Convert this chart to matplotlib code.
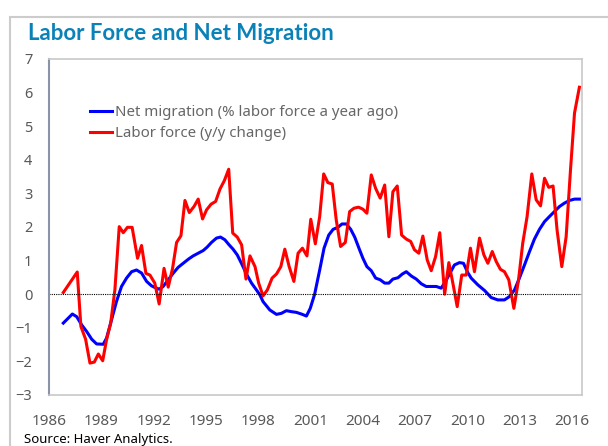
import matplotlib
matplotlib.use('Agg')
import matplotlib.pyplot as plt
from matplotlib.patches import Rectangle

# Net migration (% labor force a year ago)
mig_years = [1986.82, 1987.34, 1987.59, 1987.87, 1988.16, 1988.45, 1988.73, 1989.11, 1989.3,
             1989.59, 1989.87, 1990.16, 1990.45, 1990.74, 1991.02, 1991.31, 1991.6, 1991.88,
             1992.07, 1992.32, 1992.55, 1992.84, 1993.12, 1993.41, 1993.7, 1993.99, 1994.27,
             1994.56, 1994.85, 1995.07, 1995.32, 1995.61, 1995.84, 1996.09, 1996.33, 1996.56,
             1996.8, 1997.04, 1997.33, 1997.62, 1997.87, 1998.1, 1998.28, 1998.67, 1999.05,
             1999.33, 1999.62, 1999.91, 2000.19, 2000.48, 2000.77, 2000.99, 2001.24, 2001.53,
             2001.78, 2002.05, 2002.3, 2002.58, 2002.81, 2003.06, 2003.31, 2003.54, 2003.82,
             2004.01, 2004.24, 2004.49, 2004.74, 2005.0, 2005.26, 2005.5, 2005.73, 2006.02,
             2006.27, 2006.5, 2006.79, 2007.07, 2007.36, 2007.64, 2007.93, 2008.22, 2008.5,
             2008.75, 2009.02, 2009.26, 2009.55, 2009.78, 2010.03, 2010.22, 2010.6, 2010.99,
             2011.37, 2011.75, 2012.13, 2012.42, 2012.71, 2012.99, 2013.28, 2013.57, 2013.85,
             2014.14, 2014.43, 2014.71, 2015.0, 2015.29, 2015.57, 2015.86, 2016.15, 2016.43]
mig_vals = [-0.86, -0.59, -0.67, -0.91, -1.11, -1.34, -1.48, -1.49, -1.31,
            -0.76, -0.22, 0.23, 0.48, 0.67, 0.72, 0.63, 0.38, 0.25,
            0.2, 0.15, 0.23, 0.43, 0.62, 0.8, 0.92, 1.04, 1.14,
            1.22, 1.3, 1.4, 1.54, 1.67, 1.7, 1.62, 1.47, 1.34,
            1.17, 0.92, 0.6, 0.33, 0.15, -0.02, -0.22, -0.47, -0.6,
            -0.57, -0.49, -0.52, -0.54, -0.59, -0.65, -0.42, 0.0, 0.72,
            1.37, 1.76, 1.93, 1.99, 2.09, 2.09, 1.93, 1.7, 1.32,
            1.07, 0.82, 0.7, 0.48, 0.43, 0.33, 0.33, 0.45, 0.49,
            0.6, 0.67, 0.54, 0.45, 0.31, 0.23, 0.23, 0.23, 0.18,
            0.38, 0.64, 0.87, 0.94, 0.92, 0.64, 0.48, 0.28, 0.11,
            -0.1, -0.17, -0.17, -0.07, 0.13, 0.48, 0.87, 1.27, 1.64,
            1.93, 2.16, 2.31, 2.46, 2.61, 2.71, 2.79, 2.83, 2.83]

# Labor force (y/y change)
lf_years = [1986.82, 1987.62, 1987.83, 1988.1, 1988.35, 1988.6, 1988.83, 1989.08, 1989.3,
            1989.54, 1989.78, 1990.03, 1990.26, 1990.5, 1990.77, 1991.08, 1991.31, 1991.56,
            1991.79, 1992.07, 1992.32, 1992.6, 1992.84, 1993.09, 1993.32, 1993.57, 1993.8,
            1994.05, 1994.32, 1994.56, 1994.81, 1995.04, 1995.3, 1995.56, 1995.81, 1996.06,
            1996.31, 1996.54, 1996.8, 1997.05, 1997.3, 1997.53, 1997.82, 1998.03, 1998.28,
            1998.53, 1998.8, 1999.05, 1999.3, 1999.53, 1999.78, 2000.05, 2000.29, 2000.54,
            2000.8, 2001.02, 2001.28, 2001.53, 2001.76, 2002.0, 2002.25, 2002.48, 2002.73,
            2003.0, 2003.25, 2003.5, 2003.76, 2004.01, 2004.24, 2004.49, 2004.74, 2005.0,
            2005.26, 2005.5, 2005.73, 2005.98, 2006.23, 2006.5, 2006.75, 2006.97, 2007.22,
            2007.45, 2007.7, 2007.93, 2008.18, 2008.42, 2008.7, 2008.94, 2009.17, 2009.42,
            2009.68, 2009.94, 2010.18, 2010.41, 2010.7, 2010.95, 2011.18, 2011.43, 2011.66,
            2011.9, 2012.13, 2012.38, 2012.67, 2012.94, 2013.18, 2013.43, 2013.7, 2013.95,
            2014.2, 2014.43, 2014.67, 2014.92, 2015.15, 2015.42, 2015.67, 2015.92, 2016.15,
            2016.43]
lf_vals = [0.05, 0.66, -0.96, -1.34, -2.05, -2.02, -1.78, -1.98, -1.36,
           -0.86, 0.13, 2.01, 1.83, 1.99, 1.99, 1.07, 1.45, 0.62,
           0.57, 0.33, -0.29, 0.77, 0.21, 0.77, 1.54, 1.74, 2.79,
           2.43, 2.61, 2.83, 2.24, 2.51, 2.68, 2.76, 3.13, 3.38,
           3.72, 1.82, 1.7, 1.47, 0.45, 1.14, 0.82, 0.33, -0.05,
           0.13, 0.48, 0.6, 0.82, 1.34, 0.82, 0.38, 1.22, 1.37,
           1.14, 2.23, 1.5, 2.31, 3.58, 3.32, 3.28, 2.21, 1.42,
           1.54, 2.46, 2.56, 2.59, 2.53, 2.41, 3.55, 3.15, 2.86,
           3.25, 1.71, 3.05, 3.22, 1.76, 1.64, 1.57, 1.32, 1.22,
           1.73, 1.02, 0.7, 1.12, 1.83, 0.0, 0.94, 0.33, -0.37,
           0.57, 0.57, 1.37, 0.67, 1.67, 1.17, 0.92, 1.27, 0.97,
           0.74, 0.67, 0.43, -0.42, 0.43, 1.52, 2.31, 3.58, 2.81,
           2.63, 3.45, 3.18, 3.22, 1.91, 0.82, 1.71, 3.7, 5.39,
           6.16]

x_ticks = list(range(1986, 2017, 3))
y_ticks = list(range(-3, 8))

plt.rcParams['font.family'] = ['Noto Sans', 'DejaVu Sans']

fig = plt.figure(figsize=(6.08, 4.46), dpi=100)
ax = fig.add_axes([49 / 608, 1 - 395 / 446, 533 / 608, 336 / 446])

# outer light-gray frame
fig.patches.append(Rectangle((10 / 608, -0.1), 1.2, 1 - 17 / 446 + 0.1,
                             transform=fig.transFigure, fill=False,
                             edgecolor='#cccccc', linewidth=1.5))

ax.plot(mig_years, mig_vals, color='#0000ff', lw=2.2, label='Net migration (% labor force a year ago)')
ax.plot(lf_years, lf_vals, color='#ff0000', lw=2.2, label='Labor force (y/y change)')
ax.axhline(0, color='black', lw=0.8, ls=(0, (1, 1)))

ax.set_xlim(1986, 2016.58)
ax.set_ylim(-3, 7)
ax.set_xticks(x_ticks)
ax.set_yticks(y_ticks)
ax.tick_params(length=0, labelsize=10.5, colors='#595959')
ax.tick_params(axis='y', pad=12)
ax.tick_params(axis='x', pad=14, labelsize=11)

for s in ['top', 'right', 'bottom']:
    ax.spines[s].set_color('#c8c8c8')
    ax.spines[s].set_linewidth(1.2)
ax.spines['left'].set_color('#8a94a6')
ax.spines['left'].set_linewidth(1.5)

leg = ax.legend(loc='upper left', bbox_to_anchor=(0.065, 0.88), frameon=False,
                fontsize=10.8, handlelength=1.5, handletextpad=0.2,
                labelspacing=0.4, borderaxespad=0)
for t in leg.get_texts():
    t.set_color('#666666')

fig.text(28 / 608, 1 - 33 / 446, 'Labor Force and Net Migration', color='#0a82b8',
         fontsize=16, fontweight='bold', family='Lato', va='center', ha='left')
fig.text(24 / 608, 1 - 439 / 446, 'Source: Haver Analytics.', color='black',
         fontsize=9.5, va='center', ha='left')

fig.savefig('out.png', dpi=100)
